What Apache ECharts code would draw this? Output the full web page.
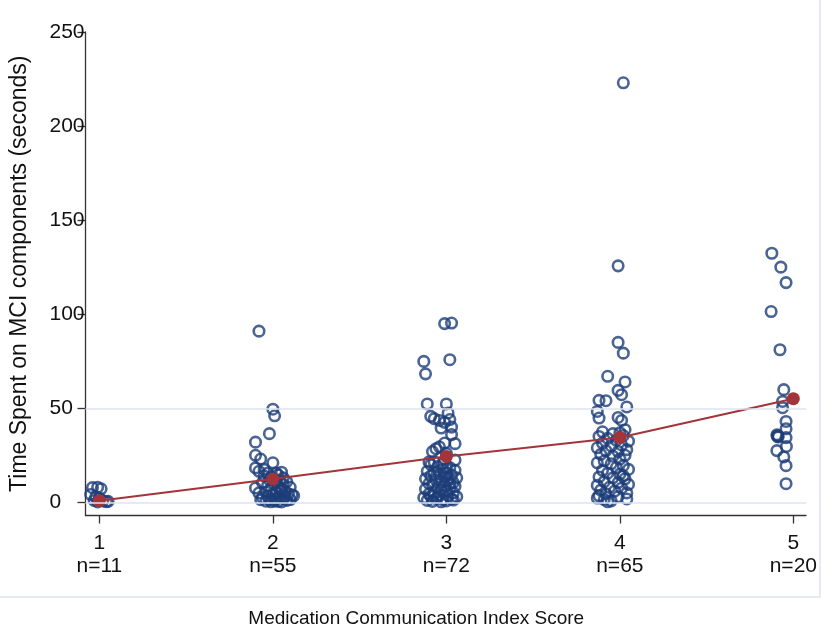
<!DOCTYPE html>
<html>
<head>
<meta charset="utf-8">
<script src="https://cdn.jsdelivr.net/npm/echarts@6/dist/echarts.min.js"></script>
<style>
  html, body { margin: 0; padding: 0; background: #fff; }
  #chart { width: 837px; height: 639px; }
</style>
</head>
<body>
<div id="chart"></div>
<script>
// MCI score categories and group sizes
const scores = [1, 2, 3, 4, 5];
const groupSizes = [11, 55, 72, 65, 20];
const yTicks = [0, 50, 100, 150, 200, 250];
const gridValues = [0, 50];

// mean time per score (red line)
const meanTime = [0.9, 12.4, 24.4, 34.5, 55.1];

// jittered observations [score + jitter, seconds]
const group1 = [
  [0.96, 7.8], [0.99, 8.0], [1.01, 7.2], [0.95, 4.2], [0.98, 3.0], [0.97, 1.0],
  [1.00, 2.2], [1.02, 0.8], [1.04, 0.4], [1.05, 0.5], [0.99, 0.2]
];
const group2 = [
  [1.92, 91.0], [2.00, 49.5], [2.01, 46.0], [1.98, 36.5], [1.90, 32.0], [1.90, 25.0],
  [1.93, 23.0], [2.00, 21.0], [1.90, 18.3], [1.92, 16.5], [1.95, 17.5], [1.97, 15.5],
  [2.03, 14.5], [1.99, 13.5], [2.06, 13.0],
  [1.95, 14.0], [2.02, 15.5], [2.05, 16.0], [1.98, 12.0], [2.04, 11.5], [2.08, 11.0],
  [1.94, 10.5], [2.01, 10.0], [2.06, 9.5], [1.97, 9.0], [2.03, 8.5], [2.10, 8.0],
  [1.90, 7.6], [1.99, 7.0], [2.05, 6.8], [2.07, 6.0], [1.92, 5.0], [1.96, 5.5],
  [2.02, 5.0], [2.09, 4.5], [2.11, 4.0], [2.00, 3.8], [2.04, 3.0], [1.94, 2.5],
  [2.06, 2.0], [2.12, 3.5], [1.98, 1.5], [2.01, 0.8], [2.03, 0.5], [2.08, 1.0],
  [1.96, 0.6], [1.99, 0.3], [2.05, 0.2], [2.10, 1.5], [2.07, 2.8], [1.93, 1.4],
  [2.02, 2.0], [1.97, 3.2], [2.04, 6.5], [2.00, 12.5]
];
const group3 = [
  [2.99, 95.0], [3.03, 95.3], [3.02, 75.8], [2.87, 74.9], [2.88, 68.3], [2.89, 52.3],
  [3.00, 52.3], [3.01, 47.5], [2.91, 45.7], [2.93, 44.5], [2.96, 43.5], [2.99, 42.5],
  [3.02, 44.0], [3.03, 40.0], [2.97, 39.5], [3.03, 36.0], [3.05, 31.2], [2.99, 31.5],
  [2.94, 28.5], [2.92, 27.0], [2.96, 29.5], [3.00, 26.0], [2.90, 21.5], [2.91, 20.0],
  [2.95, 19.0], [3.02, 18.5], [2.98, 17.5], [3.05, 17.0], [2.89, 16.5], [2.93, 16.0],
  [3.00, 15.5], [2.96, 15.0], [3.03, 14.5], [2.91, 14.0], [2.99, 13.5], [3.06, 13.0],
  [2.88, 12.5], [2.94, 12.0], [3.01, 11.5], [2.97, 11.0], [3.04, 10.5], [2.90, 10.0],
  [2.92, 9.5], [2.99, 9.0], [3.05, 8.5], [2.95, 8.0], [3.02, 7.5], [2.88, 7.0],
  [2.97, 6.5], [3.00, 6.0], [2.93, 5.5], [3.04, 5.0], [2.90, 4.5], [2.96, 4.0],
  [3.01, 3.5], [3.06, 3.0], [2.87, 2.5], [2.94, 2.0], [2.98, 1.5], [3.03, 1.8],
  [2.89, 1.0], [2.92, 0.5], [2.97, 0.3], [3.00, 0.8], [3.04, 1.2], [2.95, 2.8],
  [2.91, 3.2], [3.02, 10.0], [2.98, 20.5], [2.93, 21.5], [3.05, 22.5], [3.00, 18.0]
];
const group4 = [
  [4.02, 223.0], [3.99, 125.7], [3.99, 85.0], [4.02, 79.3], [3.93, 67.0], [4.03, 64.0],
  [3.99, 59.5], [4.01, 57.2], [3.88, 54.2], [3.92, 54.0], [4.04, 50.7], [3.87, 48.3],
  [3.88, 44.8], [3.99, 45.1], [4.01, 43.5], [4.03, 38.6],
  [3.90, 37.5], [3.96, 36.5], [4.00, 37.0], [3.88, 35.0], [3.93, 34.0], [4.02, 35.5],
  [3.98, 33.0], [4.05, 32.5], [3.90, 31.5], [3.95, 30.0], [4.01, 30.5], [3.87, 29.0],
  [4.04, 28.0], [3.92, 27.5], [3.99, 27.0], [3.89, 25.5], [3.96, 24.5], [4.03, 25.0],
  [4.00, 23.0], [3.91, 22.0], [3.87, 21.0], [3.95, 20.5], [4.02, 19.5], [3.98, 18.5],
  [4.05, 17.5], [3.90, 17.0], [3.93, 15.5], [4.00, 15.0], [3.88, 13.5], [3.96, 13.0],
  [4.03, 12.5], [3.91, 11.0], [3.99, 10.5], [4.05, 9.5], [3.87, 9.0], [3.94, 8.0],
  [4.01, 7.5], [3.89, 6.5], [3.97, 6.0], [4.04, 5.0], [3.92, 4.5], [3.88, 3.5],
  [3.99, 3.0], [3.87, 2.3], [3.91, 1.5], [3.95, 0.8], [3.93, 0.3], [4.04, 1.8],
  [4.02, 14.0]
];
const group5 = [
  [4.876, 132.4], [4.928, 125.0], [4.958, 116.8], [4.872, 101.4], [4.923, 81.1],
  [4.945, 59.9], [4.938, 53.6], [4.938, 50.3], [4.958, 43.0], [4.958, 39.1],
  [4.958, 34.4], [4.910, 35.4], [4.905, 35.9], [4.913, 34.8], [4.908, 35.0],
  [4.960, 29.7], [4.905, 27.5], [4.945, 24.1], [4.958, 19.5], [4.958, 9.9]
];

const font = "'Liberation Sans', Arial, sans-serif";
const blue = '#1d3d78';
const red = '#a3343a';

const chart = echarts.init(document.getElementById('chart'));
chart.setOption({
  animation: false,
  backgroundColor: '#fff',
  textStyle: { fontFamily: font },
  grid: { left: 83.5, right: 31, top: 32, bottom: 123.5 },
  xAxis: {
    type: 'value',
    min: 0.92,
    max: 5.073,
    name: 'Medication Communication Index Score',
    nameLocation: 'middle',
    nameGap: 94,
    nameTextStyle: { fontSize: 19, color: '#111', fontFamily: font, padding: [0, 59, 0, 0] },
    axisLine: { show: true, onZero: false, lineStyle: { color: '#333', width: 1.3 } },
    axisTick: { show: true, length: 8, lineStyle: { color: '#333', width: 1.3 }, customValues: scores },
    axisLabel: {
      customValues: scores,
      margin: 16,
      fontSize: 21,
      lineHeight: 23,
      color: '#111',
      fontFamily: font,
      formatter: (v) => {
        const i = scores.indexOf(Math.round(v));
        return v + '\nn=' + groupSizes[i];
      }
    },
    splitLine: { show: false }
  },
  yAxis: {
    type: 'value',
    min: -7,
    max: 250,
    name: 'Time Spent on MCI components (seconds)',
    nameLocation: 'middle',
    nameGap: 54.5,
    nameTextStyle: { fontSize: 23, color: '#111', fontFamily: font },
    axisLine: { show: true, onZero: false, lineStyle: { color: '#333', width: 1.3 } },
    axisTick: { show: true, length: 8, lineStyle: { color: '#333', width: 1.3 }, customValues: yTicks },
    axisLabel: {
      customValues: yTicks,
      align: 'left',
      margin: 36,
      fontSize: 21,
      color: '#111',
      fontFamily: font
    },
    splitLine: { show: false }
  },
  graphic: [{
    type: 'rect',
    silent: true,
    shape: { x: -2, y: -2, width: 822, height: 599 },
    style: { fill: 'none', stroke: '#dfe3f0', lineWidth: 1.5 }
  }],
  series: [
    {
      type: 'scatter',
      name: 'observations',
      symbol: 'circle',
      symbolSize: 10.5,
      itemStyle: { color: 'rgba(0,0,0,0)', borderColor: blue, borderWidth: 2.6 },
      data: [].concat(group1, group2, group3, group4, group5),
      markLine: {
        silent: true,
        symbol: 'none',
        label: { show: false },
        lineStyle: { color: '#dde3f1', width: 1.5, type: 'solid' },
        data: gridValues.map((v) => ({ yAxis: v }))
      },
      z: 2
    },
    {
      type: 'line',
      name: 'mean',
      symbol: 'circle',
      symbolSize: 13,
      itemStyle: { color: red },
      lineStyle: { color: red, width: 2 },
      data: scores.map((s, i) => [s, meanTime[i]]),
      z: 3
    }
  ]
});
</script>
</body>
</html>
